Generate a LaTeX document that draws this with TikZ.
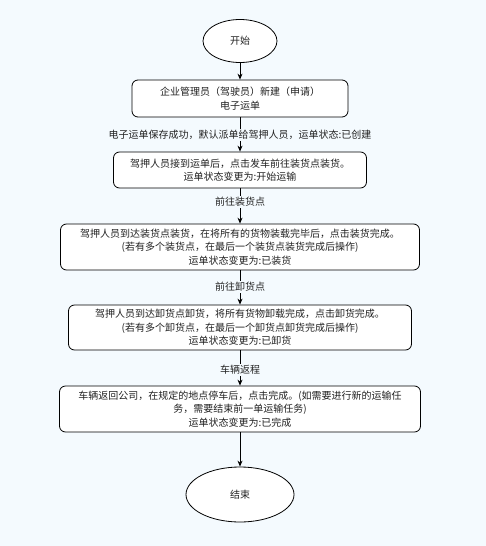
\documentclass[tikz,border=0pt]{standalone}
\usepackage{fontspec}
\newfontfamily\cjk{Noto Sans CJK SC}
\usetikzlibrary{shapes.geometric,arrows.meta}
\definecolor{bgc}{HTML}{F4FAFE}
\definecolor{txt}{HTML}{222222}
\tikzset{
  base/.style={font=\cjk\fontsize{10}{13.5}\selectfont, text=txt, align=center},
  stepbox/.style={base, draw=black, line width=0.8pt, fill=white, rounded corners=6pt, inner sep=0pt},
  term/.style={base, ellipse, draw=black, line width=0.8pt, fill=white, inner sep=0pt},
  lbl/.style={base, fill=bgc, inner sep=1pt},
  arr/.style={line width=0.8pt, -{Stealth[length=6pt,width=5pt]}},
}
\begin{document}
\begin{tikzpicture}[x=1pt,y=-1pt]
\fill[bgc] (0,0) rectangle (486,546);
\useasboundingbox (0,0) rectangle (486,546);
\node[term, minimum width=74, minimum height=43] (start) at (240,41) {开始};
\node[stepbox, minimum width=216, minimum height=37] (b1) at (240,98.5) {企业管理员（驾驶员）新建（申请）\\电子运单};
\node[stepbox, minimum width=253, minimum height=36] (b2) at (240,170) {驾押人员接到运单后，点击发车前往装货点装货。\\运单状态变更为:开始运输};
\node[stepbox, minimum width=359, minimum height=46] (b3) at (240,247) {驾押人员到达装货点装货，在将所有的货物装载完毕后，点击装货完成。\\(若有多个装货点，在最后一个装货点装货完成后操作)\\运单状态变更为:已装货};
\node[stepbox, minimum width=343, minimum height=45] (b4) at (240,327.5) {驾押人员到达卸货点卸货，将所有货物卸载完成，点击卸货完成。\\(若有多个卸货点，在最后一个卸货点卸货完成后操作)\\运单状态变更为:已卸货};
\node[stepbox, minimum width=361, minimum height=46] (b5) at (240,409) {车辆返回公司，在规定的地点停车后，点击完成。(如需要进行新的运输任\\务，需要结束前一单运输任务)\\运单状态变更为:已完成};
\node[term, minimum width=108, minimum height=55] (end) at (240,494.5) {结束};

\draw[arr] (start) -- (b1);
\draw[arr] (b1) -- (b2);
\draw[arr] (b2) -- (b3);
\draw[arr] (b3) -- (b4);
\draw[arr] (b4) -- (b5);
\draw[arr] (b5) -- (end);

\node[lbl] (l1) at (240,135) {电子运单保存成功，默认派单给驾押人员，运单状态:已创建};
\node[lbl] (l2) at (240,202) {前往装货点};
\node[lbl] (l3) at (240,287) {前往卸货点};
\node[lbl] (l4) at (240,370) {车辆返程};
\end{tikzpicture}
\end{document}
